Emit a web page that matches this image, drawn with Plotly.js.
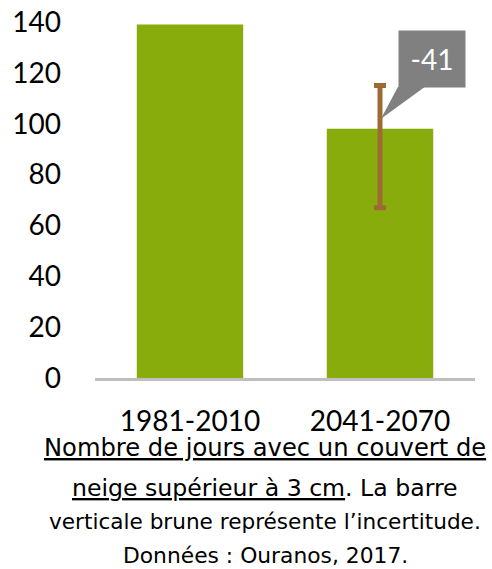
<!DOCTYPE html>
<html>
<head>
<meta charset="utf-8">
<script src="https://cdn.plot.ly/plotly-3.0.1.min.js"></script>
<style>
html,body{margin:0;padding:0;background:#fff;}
#chart{width:492px;height:569px;}
</style>
</head>
<body>
<div id="chart"></div>
<script>
// Data
const categories = ['1981-2010', '2041-2070'];
const values = [139, 98];
const uncertaintyHigh = [115];
const uncertaintyLow = [67];
const yTicks = [0, 20, 40, 60, 80, 100, 120, 140];
const captionLines = [
  '<u>Nombre de jours avec un couvert de</u>',
  '<u>neige supérieur à 3 cm</u>. La barre',
  'verticale brune représente l\u2019incertitude.',
  'Données : Ouranos, 2017.'
];

const change = values[1] - values[0];

const barTrace = {
  type: 'bar',
  x: categories,
  y: values,
  marker: {color: '#88AC0B'},
  hoverinfo: 'skip'
};

const errTrace = {
  type: 'scatter',
  mode: 'markers',
  x: [categories[1]],
  y: [values[1]],
  marker: {size: 1, color: 'rgba(0,0,0,0)'},
  error_y: {
    type: 'data',
    symmetric: false,
    array: [uncertaintyHigh[0] - values[1]],
    arrayminus: [values[1] - uncertaintyLow[0]],
    color: '#9D6A34',
    thickness: 5,
    width: 6
  },
  hoverinfo: 'skip'
};

const tickFont = {family: 'Lato, "Open Sans", sans-serif', size: 28, color: '#000'};
const capSizes = [24.2, 23.6, 21.6, 21.8];

const plotTop = 22, plotBottom = 378, plotH = plotBottom - plotTop;
function py(p) { return (plotBottom - p) / plotH; }

const capY = [448, 488, 521, 555];
const annotations = captionLines.map((t, i) => ({
  xref: 'paper', yref: 'paper',
  x: (265 - 95) / 380, y: py(capY[i]),
  xanchor: 'center', yanchor: 'middle',
  text: t, showarrow: false,
  font: {family: '"DejaVu Sans", sans-serif', size: capSizes[i], color: '#000'}
}));

annotations.push({
  xref: 'paper', yref: 'paper',
  x: (432 - 95) / 380, y: py(59),
  xanchor: 'center', yanchor: 'middle',
  text: String(change),
  showarrow: false,
  bgcolor: '#808080',
  width: 64, height: 54,
  font: {family: 'Lato, sans-serif', size: 28, color: '#fff'}
});

const layout = {
  width: 492, height: 569,
  margin: {l: 95, r: 17, t: plotTop, b: 569 - plotBottom},
  paper_bgcolor: '#fff', plot_bgcolor: '#fff',
  showlegend: false,
  bargap: 0.44,
  xaxis: {
    type: 'category',
    showline: true, linecolor: '#BFBFBF', linewidth: 3,
    ticks: '', tickfont: tickFont,
    ticklabelstandoff: 16,
    showgrid: false, zeroline: false, fixedrange: true
  },
  yaxis: {
    range: [0, 140],
    tickvals: yTicks,
    showline: false, showgrid: false, zeroline: false,
    ticks: '', tickfont: tickFont,
    ticklabelstandoff: 33, fixedrange: true
  },
  shapes: [{
    type: 'path',
    xref: 'x', yref: 'y',
    xsizemode: 'pixel', ysizemode: 'pixel',
    xanchor: 1, yanchor: 102,
    path: 'M1,0 L18,32 L45,32 Z',
    fillcolor: '#808080',
    line: {width: 0}
  }],
  annotations: annotations
};

Plotly.newPlot('chart', [barTrace, errTrace], layout, {displayModeBar: false, staticPlot: true});
</script>
</body>
</html>
